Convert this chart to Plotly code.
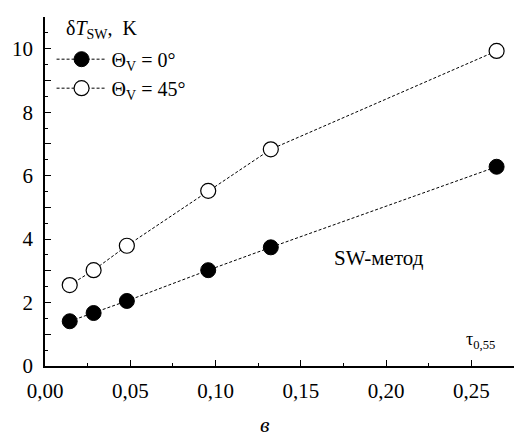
import plotly.graph_objects as go

# Data
x_vals = [0.0145, 0.0285, 0.048, 0.0957, 0.1324, 0.2648]
y_theta0 = [1.41, 1.67, 2.05, 3.02, 3.74, 6.28]
y_theta45 = [2.55, 3.02, 3.79, 5.52, 6.83, 9.93]
series_names = ["Θ<sub>V</sub> = 0°", "Θ<sub>V</sub> = 45°"]
y_tickvals = list(range(0, 12))
y_ticktext = [str(v) if v % 2 == 0 and v <= 10 else "" for v in y_tickvals]
x_tickvals = [0.0, 0.05, 0.10, 0.15, 0.20, 0.25]

FONT = "Liberation Serif"
tfont = dict(family=FONT, size=20, color="black")

fig = go.Figure()
fig.add_trace(go.Scatter(
    x=x_vals, y=y_theta0, name=series_names[0], mode="lines+markers",
    line=dict(color="black", width=1, dash="3px,2px"),
    marker=dict(size=15, color="black", line=dict(color="black", width=1)),
))
fig.add_trace(go.Scatter(
    x=x_vals, y=y_theta45, name=series_names[1], mode="lines+markers",
    line=dict(color="black", width=1, dash="3px,2px"),
    marker=dict(size=15, color="white", line=dict(color="black", width=1.2)),
))

fig.update_layout(
    width=515, height=438,
    margin=dict(l=45, r=1, t=17, b=72),
    paper_bgcolor="white", plot_bgcolor="white",
    font=tfont,
    separators=", ",
    showlegend=True,
    legend=dict(x=0.014, y=0.935, xanchor="left", yanchor="top",
                bgcolor="rgba(0,0,0,0)", font=tfont,
                tracegroupgap=0, itemwidth=50),
    xaxis=dict(
        range=[0, 0.275], showgrid=False, zeroline=False, automargin=False,
        showline=True, linecolor="black", linewidth=1.5,
        ticks="inside", ticklen=6, tickwidth=1.2, tickcolor="black",
        tickvals=x_tickvals, tickformat=".2f", ticklabelstandoff=5,
        tickfont=dict(family=FONT, size=21, color="black"),
        minor=dict(ticks="inside", ticklen=3, dtick=0.025, tick0=0, tickcolor="black", tickwidth=1),
    ),
    yaxis=dict(
        range=[0, 11], showgrid=False, zeroline=False, automargin=False,
        showline=True, linecolor="black", linewidth=1.5,
        ticks="inside", ticklen=6, tickwidth=1.2, tickcolor="black",
        tickvals=y_tickvals, ticktext=y_ticktext, ticklabelstandoff=6,
        tickfont=dict(family=FONT, size=21, color="black"),
        minor=dict(ticks="inside", ticklen=3, dtick=0.5, tick0=0, tickcolor="black", tickwidth=1),
    ),
)

fig.add_annotation(x=0.04, y=1.0, xref="paper", yref="paper", xanchor="left", yanchor="middle",
                   yshift=-12, showarrow=False,
                   text="δ<i>T</i><sub>SW</sub>,  K", font=dict(family=FONT, size=20))
fig.add_annotation(x=0.196, y=3.4, xref="x", yref="y", showarrow=False,
                   text="SW-метод", font=dict(family=FONT, size=21))
fig.add_annotation(x=0.2555, y=0.8, xref="x", yref="y", showarrow=False,
                   text="τ<sub>0,55</sub>", font=dict(family=FONT, size=18))
fig.add_annotation(x=0.47, y=0, xref="paper", yref="paper", yanchor="middle",
                   yshift=-58, showarrow=False,
                   text="<i>в</i>", font=dict(family=FONT, size=22))

fig.write_html("out.html")
